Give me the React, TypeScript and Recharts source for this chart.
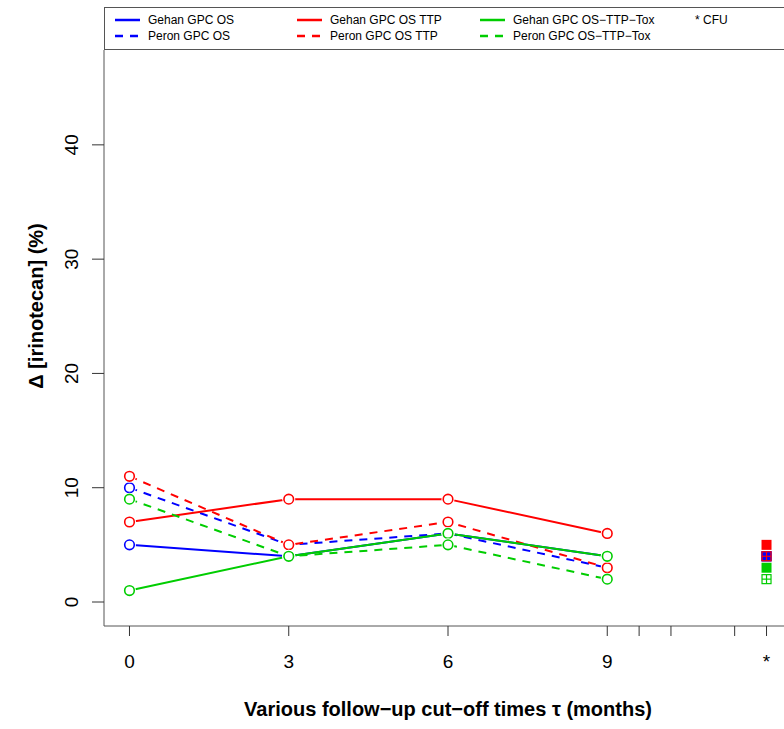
import { ComposedChart, Label, Legend, Line, Scatter, XAxis, YAxis } from "recharts";

const FONT = '"Liberation Sans", Arial, sans-serif';

// follow-up cut-off times (months)
const months = [0, 3, 6, 9];

// Δ [irinotecan] (%) per cut-off time
const gehanOS = [5, 4, 6, 4];
const peronOS = [10, 5, 6, 3];
const gehanTTP = [7, 9, 9, 6];
const peronTTP = [11, 5, 7, 3];
const gehanTox = [1, 4, 6, 4];
const peronTox = [9, 4, 5, 2];

// CFU values, drawn at the "*" tick
const cfuMonth = 12;
const cfuValues = [4, 4, 5, 4, 3, 2];

const xTicks = [0, 3, 6, 9, 9.6, 10.2, 10.8, 11.4, 12];
const xTickLabels = ["0", "3", "6", "9", "", "", "", "", "*"];
const yTicks = [0, 10, 20, 30, 40];

const BLUE = "#0000FF";
const RED = "#FF0000";
const GREEN = "#00CD00";

const series = [
  { key: "gehanOS", name: "Gehan GPC OS", color: BLUE, dashed: false, values: gehanOS },
  { key: "peronOS", name: "Peron GPC OS", color: BLUE, dashed: true, values: peronOS },
  { key: "gehanTTP", name: "Gehan GPC OS TTP", color: RED, dashed: false, values: gehanTTP },
  { key: "peronTTP", name: "Peron GPC OS TTP", color: RED, dashed: true, values: peronTTP },
  { key: "gehanTox", name: "Gehan GPC OS\u2212TTP\u2212Tox", color: GREEN, dashed: false, values: gehanTox },
  { key: "peronTox", name: "Peron GPC OS\u2212TTP\u2212Tox", color: GREEN, dashed: true, values: peronTox },
];

const data = months.map((month, i) => {
  const row: Record<string, number> = { month };
  series.forEach((s) => (row[s.key] = s.values[i]));
  return row;
});

const ringDot = (color: string) => (props: any) => {
  const { cx, cy, index } = props;
  if (cx == null || cy == null) return <g key={index} />;
  return (
    <g key={index}>
      <circle cx={cx} cy={cy} r={6.5} fill="#fff" />
      <circle cx={cx} cy={cy} r={4.8} fill="none" stroke={color} strokeWidth={1.6} />
    </g>
  );
};

const cfuShape = (color: string, filled: boolean) => (props: any) => {
  const { cx, cy } = props;
  if (filled) return <rect x={cx - 5} y={cy - 5} width={10} height={10} fill={color} />;
  return (
    <g stroke={color} strokeWidth={1.2} fill="none">
      <rect x={cx - 4.5} y={cy - 4.5} width={9} height={9} />
      <line x1={cx - 4.5} x2={cx + 4.5} y1={cy} y2={cy} />
      <line x1={cx} x2={cx} y1={cy - 4.5} y2={cy + 4.5} />
    </g>
  );
};

const XTick = (props: any) => {
  const { x, y, payload } = props;
  const label = xTickLabels[xTicks.indexOf(payload.value)];
  return (
    <text x={x} y={y} dy={30} textAnchor="middle" fontSize={19} fontFamily={FONT} fill="#000">
      {label}
    </text>
  );
};

const YTick = (props: any) => {
  const { x, y, payload } = props;
  const tx = x - 12;
  return (
    <text
      x={tx}
      y={y}
      transform={`rotate(-90 ${tx} ${y})`}
      textAnchor="middle"
      fontSize={19}
      fontFamily={FONT}
      fill="#000"
    >
      {payload.value}
    </text>
  );
};

const LegendBox = () => {
  const cols = [11, 193, 376];
  return (
    <svg width={700} height={43} style={{ display: "block" }}>
      <rect x={0.5} y={0.5} width={720} height={42} fill="#fff" stroke="#555" strokeWidth={1} />
      {series.map((s, i) => {
        const cx = cols[Math.floor(i / 2)];
        const cy = i % 2 === 0 ? 13 : 29;
        return (
          <g key={s.key}>
            <line
              x1={cx}
              x2={cx + 25}
              y1={cy}
              y2={cy}
              stroke={s.color}
              strokeWidth={2.5}
              strokeDasharray={s.dashed ? "8 7" : undefined}
            />
            <text x={cx + 33} y={cy + 4} fontSize={12} fontFamily={FONT} fill="#000">
              {s.name}
            </text>
          </g>
        );
      })}
      <text x={591} y={17} fontSize={12} fontFamily={FONT} fill="#000">
        * CFU
      </text>
    </svg>
  );
};

export default function App() {
  return (
    <div
      style={{
        position: "absolute",
        left: 0,
        top: 0,
        width: 784,
        height: 729,
        overflow: "hidden",
        background: "#fff",
        fontFamily: FONT,
      }}
    >
      <ComposedChart width={800} height={729} data={data} margin={{ top: 50, right: 8, bottom: 43, left: 44 }}>
        <XAxis
          type="number"
          dataKey="month"
          domain={[-0.48, 12.48]}
          ticks={xTicks}
          allowDataOverflow
          height={60}
          tickSize={10}
          tickLine={{ stroke: "#333" }}
          axisLine={{ stroke: "#555" }}
          tick={<XTick />}
        >
          <Label
            content={(p: any) => (
              <text
                x={p.viewBox.x + p.viewBox.width / 2}
                y={p.viewBox.y + 90}
                textAnchor="middle"
                fontSize={20}
                fontWeight="bold"
                fontFamily={FONT}
                fill="#000"
              >
                {"Various follow\u2212up cut\u2212off times \u03C4 (months)"}
              </text>
            )}
          />
        </XAxis>
        <YAxis
          type="number"
          domain={[-2.1, 48.3]}
          ticks={yTicks}
          allowDataOverflow
          width={60}
          tickSize={12}
          tickLine={{ stroke: "#333" }}
          axisLine={{ stroke: "#555" }}
          tick={<YTick />}
        >
          <Label
            content={(p: any) => {
              const lx = p.viewBox.x - 1;
              const ly = p.viewBox.y + p.viewBox.height / 2 - 32;
              return (
                <text
                  x={lx}
                  y={ly}
                  transform={`rotate(-90 ${lx} ${ly})`}
                  textAnchor="middle"
                  fontSize={20}
                  fontWeight="bold"
                  fontFamily={FONT}
                  fill="#000"
                >
                  {"\u0394 [irinotecan] (%)"}
                </text>
              );
            }}
          />
        </YAxis>
        <Legend
          verticalAlign="middle"
          align="center"
          layout="horizontal"
          wrapperStyle={{ top: 7, left: 104, width: 700, height: 43 }}
          content={() => <LegendBox />}
        />
        {series.map((s) => (
          <Line
            key={s.key}
            type="linear"
            dataKey={s.key}
            name={s.name}
            stroke={s.color}
            strokeWidth={2}
            strokeDasharray={s.dashed ? "8 7" : undefined}
            dot={ringDot(s.color)}
            activeDot={false}
            isAnimationActive={false}
          />
        ))}
        {series.map((s, i) => (
          <Scatter
            key={`cfu-${s.key}`}
            data={[{ month: cfuMonth, value: cfuValues[i] }]}
            dataKey="value"
            shape={cfuShape(s.color, !s.dashed)}
            isAnimationActive={false}
          />
        ))}
      </ComposedChart>
    </div>
  );
}
